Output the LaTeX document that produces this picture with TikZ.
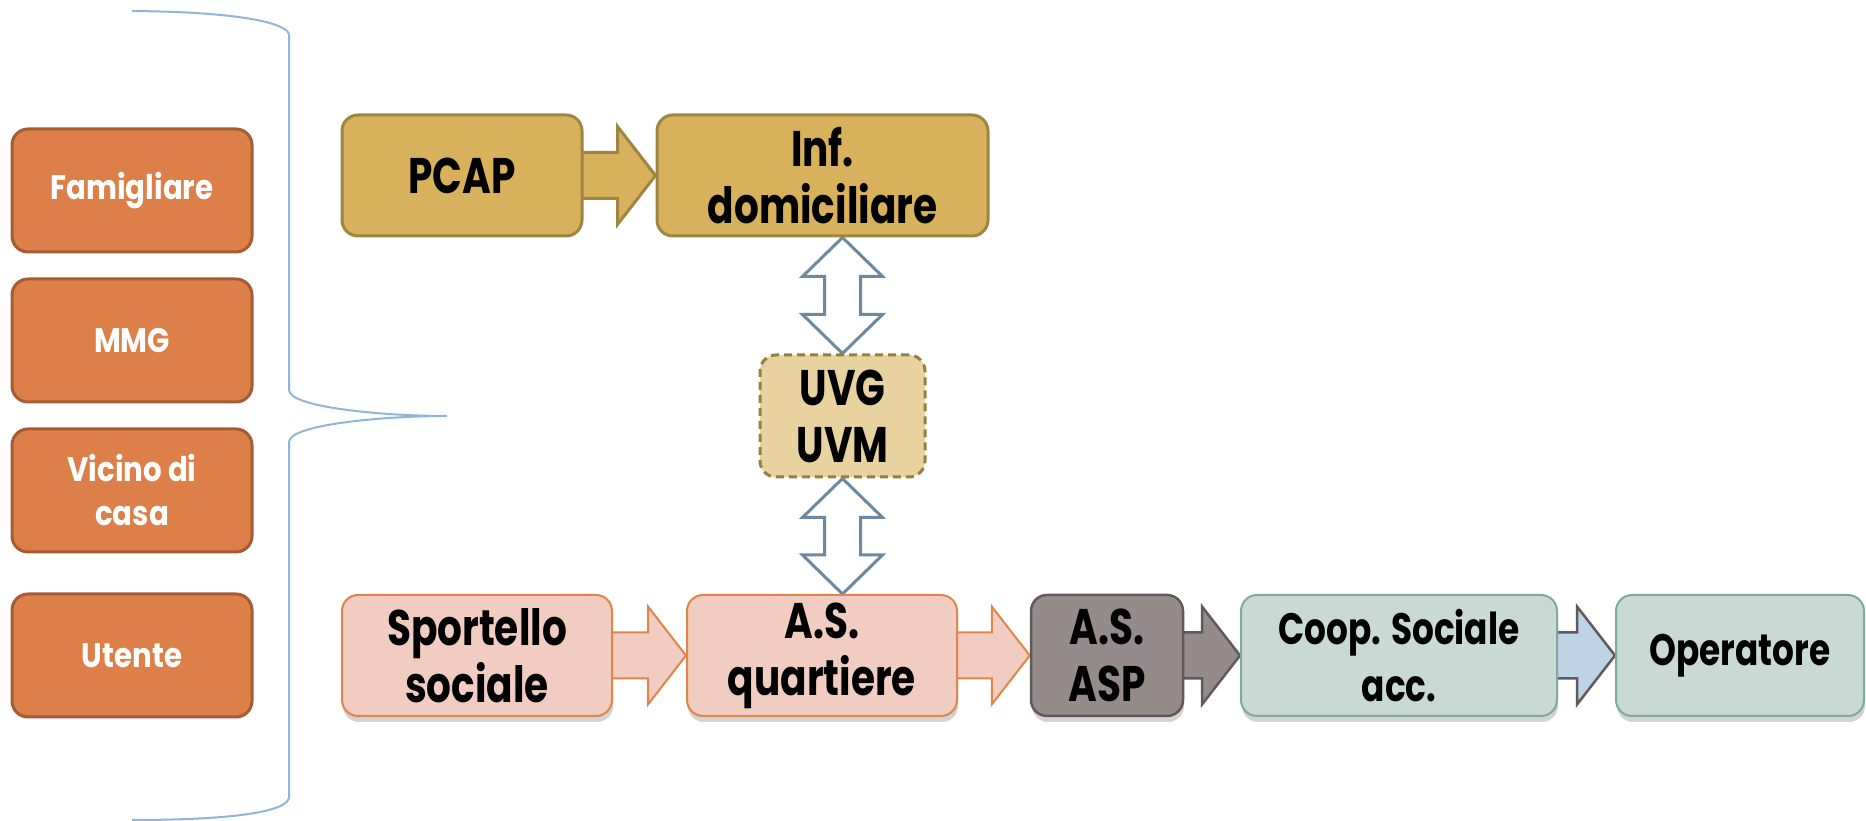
\documentclass[tikz,border=0pt]{standalone}
\usepackage{fontspec}
\setmainfont{Poppins}
\newfontfamily\bigfont[FakeStretch=0.78]{Poppins}
\newfontfamily\leftfont[FakeStretch=0.86]{Poppins}
\usetikzlibrary{calc,backgrounds,shadows}

\definecolor{leftfill}{HTML}{DD7F48}
\definecolor{leftdraw}{HTML}{A55C33}
\definecolor{goldfill}{HTML}{D8B15C}
\definecolor{golddraw}{HTML}{A08542}
\definecolor{uvgfill}{HTML}{E8D3A0}
\definecolor{uvgdraw}{HTML}{9A7E3C}
\definecolor{pinkfill}{HTML}{F0CDC0}
\definecolor{pinkdraw}{HTML}{E08449}
\definecolor{aspfill}{HTML}{968B8B}
\definecolor{aspdraw}{HTML}{62595A}
\definecolor{tealfill}{HTML}{C9DAD5}
\definecolor{tealdraw}{HTML}{7FAA9B}
\definecolor{bluefill}{HTML}{BED3E6}
\definecolor{vdraw}{HTML}{6D89A1}
\definecolor{bracecol}{HTML}{90B5D8}

\tikzset{
  box/.style={draw, rounded corners=16pt, inner sep=0pt, align=center,
    font=\bigfont\bfseries\fontsize{50pt}{57pt}\selectfont},
  shade/.style={drop shadow={shadow xshift=1pt, shadow yshift=-6pt, opacity=.35}},
  leftbox/.style={box, fill=leftfill, draw=leftdraw, line width=3pt, text=white,
    minimum width=240pt, minimum height=123pt,
    font=\leftfont\bfseries\fontsize{34pt}{44pt}\selectfont},
  goldbox/.style={box, fill=goldfill, draw=golddraw, line width=3pt, minimum height=121pt},
  uvgbox/.style={box, fill=uvgfill, draw=uvgdraw, line width=3pt, dash pattern=on 8pt off 5pt,
    minimum width=165pt, minimum height=122pt},
  pinkbox/.style={box, shade, fill=pinkfill, draw=pinkdraw, line width=2pt, minimum height=121pt},
  aspbox/.style={box, shade, fill=aspfill, draw=aspdraw, line width=2.5pt, minimum height=121pt},
  tealbox/.style={box, shade, fill=tealfill, draw=tealdraw, line width=2pt, minimum height=121pt,
    font=\bigfont\bfseries\fontsize{44pt}{57pt}\selectfont},
  goldarrow/.style={fill=goldfill, draw=golddraw, line width=3pt, line join=miter},
  pinkarrow/.style={fill=pinkfill, draw=pinkdraw, line width=2pt, line join=miter},
  asparrow/.style={fill=aspfill, draw=aspdraw, line width=2.5pt, line join=miter},
  bluearrow/.style={fill=bluefill, draw=aspdraw, line width=2.5pt, line join=miter},
  updown/.style={fill=white, draw=vdraw, line width=3pt, line join=miter},
}

% fat arrow from the east side of #2 to the west side of #3
\newcommand{\rarrow}[3]{%
  \draw[#1] let \p1=(#2.east), \p2=(#3.west) in
    (\x1-6pt,\y1+23pt) -- (\x2-38pt,\y1+23pt) -- (\x2-38pt,\y1+49pt) -- (\x2,\y1)
    -- (\x2-38pt,\y1-49pt) -- (\x2-38pt,\y1-23pt) -- (\x1-6pt,\y1-23pt) -- cycle;}
% two-headed fat arrow between #2 (above) and #3 (below), on the axis of uvg
\newcommand{\varrow}[3]{%
  \draw[#1] let \p1=(#2.south), \p2=(#3.north), \p3=(uvg.center) in
    (\x3,\y1) -- (\x3+40pt,\y1-39pt) -- (\x3+18pt,\y1-39pt) -- (\x3+18pt,\y2+39pt)
    -- (\x3+40pt,\y2+39pt) -- (\x3,\y2) -- (\x3-40pt,\y2+39pt) -- (\x3-18pt,\y2+39pt)
    -- (\x3-18pt,\y1-39pt) -- (\x3-40pt,\y1-39pt) -- cycle;}

\begin{document}
\begin{tikzpicture}[x=1pt, y=1pt]
  \useasboundingbox (0,0) rectangle (1866,821);

  \node[leftbox] (fam) at (132,630.5) {Famigliare};
  \node[leftbox] (mmg) at (132,480.5) {MMG};
  \node[leftbox] (vic) at (132,330.5) {Vicino di\\casa};
  \node[leftbox] (ute) at (132,165.5) {Utente};

  \draw[bracecol, line width=2pt]
    (132,810) .. controls (250,809) and (289,796) .. (289,786) -- (289,431)
    .. controls (289,414) and (380,405) .. (447,405)
    .. controls (380,405) and (289,396) .. (289,379) -- (289,24)
    .. controls (289,12) and (250,1) .. (132,1);

  \node[goldbox, minimum width=240pt] (pcap) at (462,645.5) {PCAP};
  \node[goldbox, minimum width=331pt] (inf) at (822.5,645.5) {Inf.\\domiciliare};
  \node[uvgbox] (uvg) at (842.5,405) {UVG\\UVM};

  \node[pinkbox, minimum width=270pt] (spo) at (477,165.5) {Sportello\\sociale};
  \node[pinkbox, minimum width=270pt] (asq) at (822,165.5) {A.S.\\quartiere};
  \node[aspbox, minimum width=152pt] (asp) at (1107,165.5) {A.S.\\ASP};
  \node[tealbox, minimum width=316pt] (coop) at (1399,165.5) {Coop. Sociale\\acc.};
  \node[tealbox, minimum width=248pt] (oper) at (1740,165.5) {Operatore};

  \begin{pgfonlayer}{background}
    \rarrow{goldarrow}{pcap}{inf}
    \rarrow{pinkarrow}{spo}{asq}
    \rarrow{pinkarrow}{asq}{asp}
    \rarrow{asparrow}{asp}{coop}
    \rarrow{bluearrow}{coop}{oper}
    \varrow{updown}{inf}{uvg}
    \varrow{updown}{uvg}{asq}
  \end{pgfonlayer}
\end{tikzpicture}
\end{document}
